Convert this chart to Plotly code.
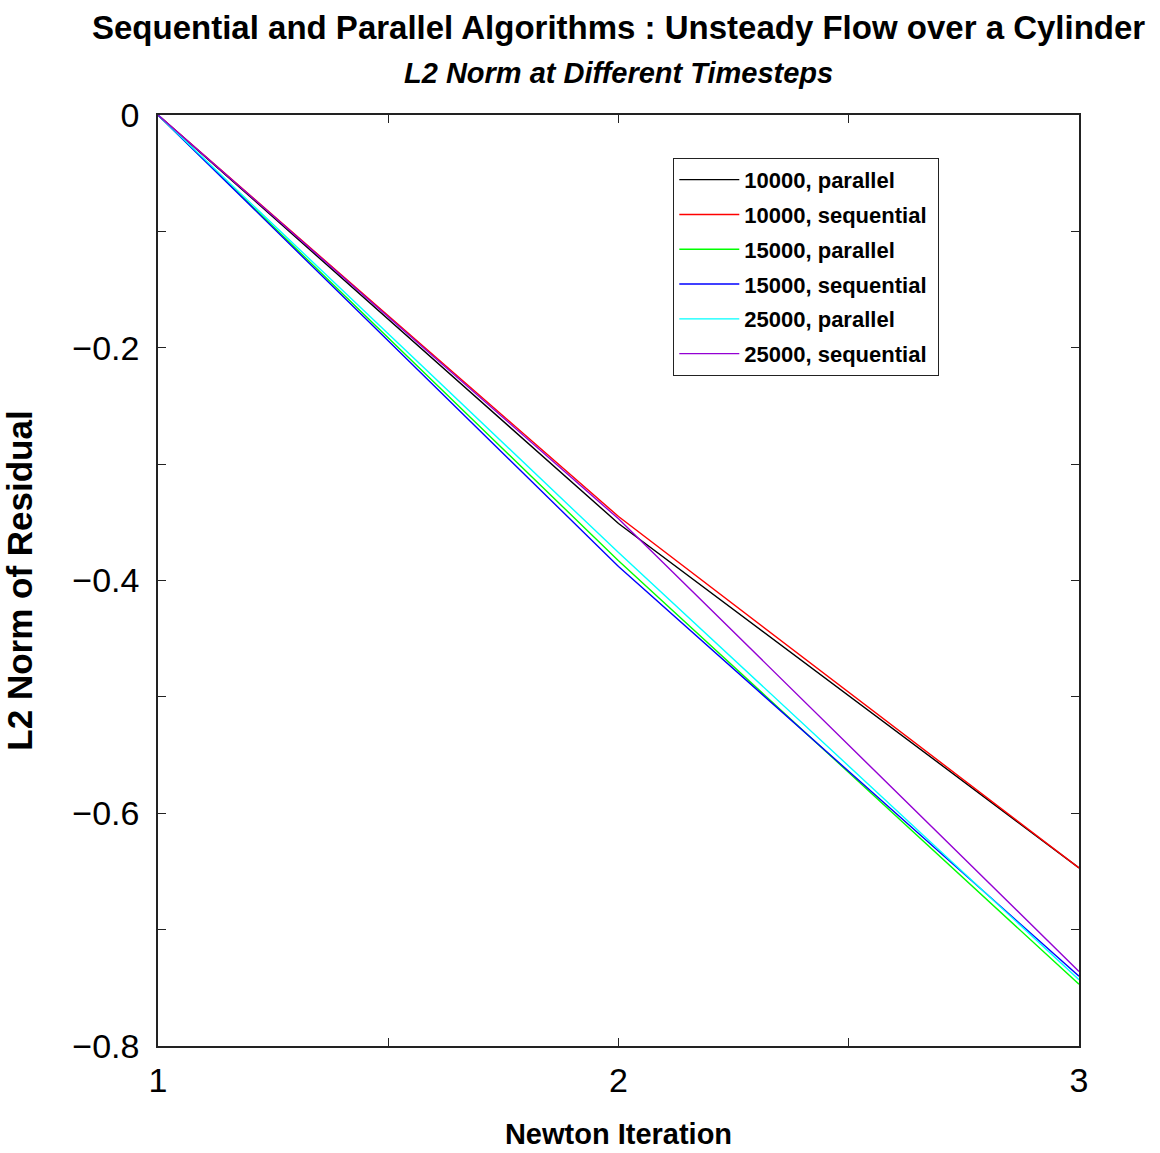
import plotly.graph_objects as go

iterations = [1, 2, 3]
series_names = ["10000, parallel", "10000, sequential", "15000, parallel",
                "15000, sequential", "25000, parallel", "25000, sequential"]
p10000 = [0.0, -0.351, -0.647]
s10000 = [0.0, -0.345, -0.647]
p15000 = [0.0, -0.383, -0.747]
s15000 = [0.0, -0.388, -0.740]
p25000 = [0.0, -0.376, -0.743]
s25000 = [0.0, -0.347, -0.736]
series_values = [p10000, s10000, p15000, s15000, p25000, s25000]
colors = ["#000000", "#ff0000", "#00ff00", "#0000ff", "#00ffff", "#9400d3"]

y_tickvals = [0, -0.2, -0.4, -0.6, -0.8]
y_ticktext = ["0", "\u22120.2", "\u22120.4", "\u22120.6", "\u22120.8"]
x_tickvals = [1, 2, 3]
x_ticktext = ["1", "2", "3"]

REG = "Liberation Sans, Arial, sans-serif"

fig = go.Figure()
for name, vals, c in zip(series_names, series_values, colors):
    fig.add_trace(go.Scatter(x=iterations, y=vals, mode="lines",
                             name=name + "\u00a0",
                             legendgroup=name,
                             line=dict(color=c, width=1.4)))

axis_common = dict(showline=True, linecolor="#222222", linewidth=1.5, mirror="ticks",
                   ticks="inside", ticklen=8, tickwidth=1, tickcolor="#222222",
                   showgrid=False, zeroline=False, automargin=False,
                   tickfont=dict(family=REG, size=34, color="black"))

fig.update_layout(
    width=1160, height=1153,
    margin=dict(l=158, r=81, t=115, b=107),
    paper_bgcolor="white", plot_bgcolor="white",
    showlegend=True,
    legend=dict(x=0.5595, y=0.954, xanchor="left", yanchor="top",
                bordercolor="#222222", borderwidth=1, bgcolor="white",
                font=dict(family=REG, size=22, color="black", weight="bold"),
                tracegroupgap=3.2, itemwidth=60),
    xaxis=dict(range=[1, 3], tickvals=x_tickvals, ticktext=x_ticktext,
               ticklabelstandoff=3,
               minor=dict(dtick=0.5, ticks="inside", ticklen=8, tickcolor="#222222"),
               title=dict(text="Newton Iteration", standoff=26,
                          font=dict(family=REG, size=29, color="black", weight="bold")),
               **axis_common),
    yaxis=dict(range=[-0.8, 0], tickvals=y_tickvals, ticktext=y_ticktext,
               ticklabelstandoff=10,
               minor=dict(dtick=0.1, ticks="inside", ticklen=8, tickcolor="#222222"),
               title=dict(text="L2 Norm of Residual", standoff=32,
                          font=dict(family=REG, size=35, color="black", weight="bold")),
               **axis_common),
    annotations=[
        dict(text="Sequential and Parallel Algorithms : Unsteady Flow over a Cylinder",
             xref="paper", yref="paper", x=0.5, y=1, yshift=88, showarrow=False,
             yanchor="middle",
             font=dict(family=REG, size=33, color="black", weight="bold")),
        dict(text="<i>L2 Norm at Different Timesteps</i>",
             xref="paper", yref="paper", x=0.5, y=1, yshift=42, showarrow=False,
             yanchor="middle",
             font=dict(family=REG, size=29, color="black", weight="bold")),
    ],
)

fig.write_html("out.html")
